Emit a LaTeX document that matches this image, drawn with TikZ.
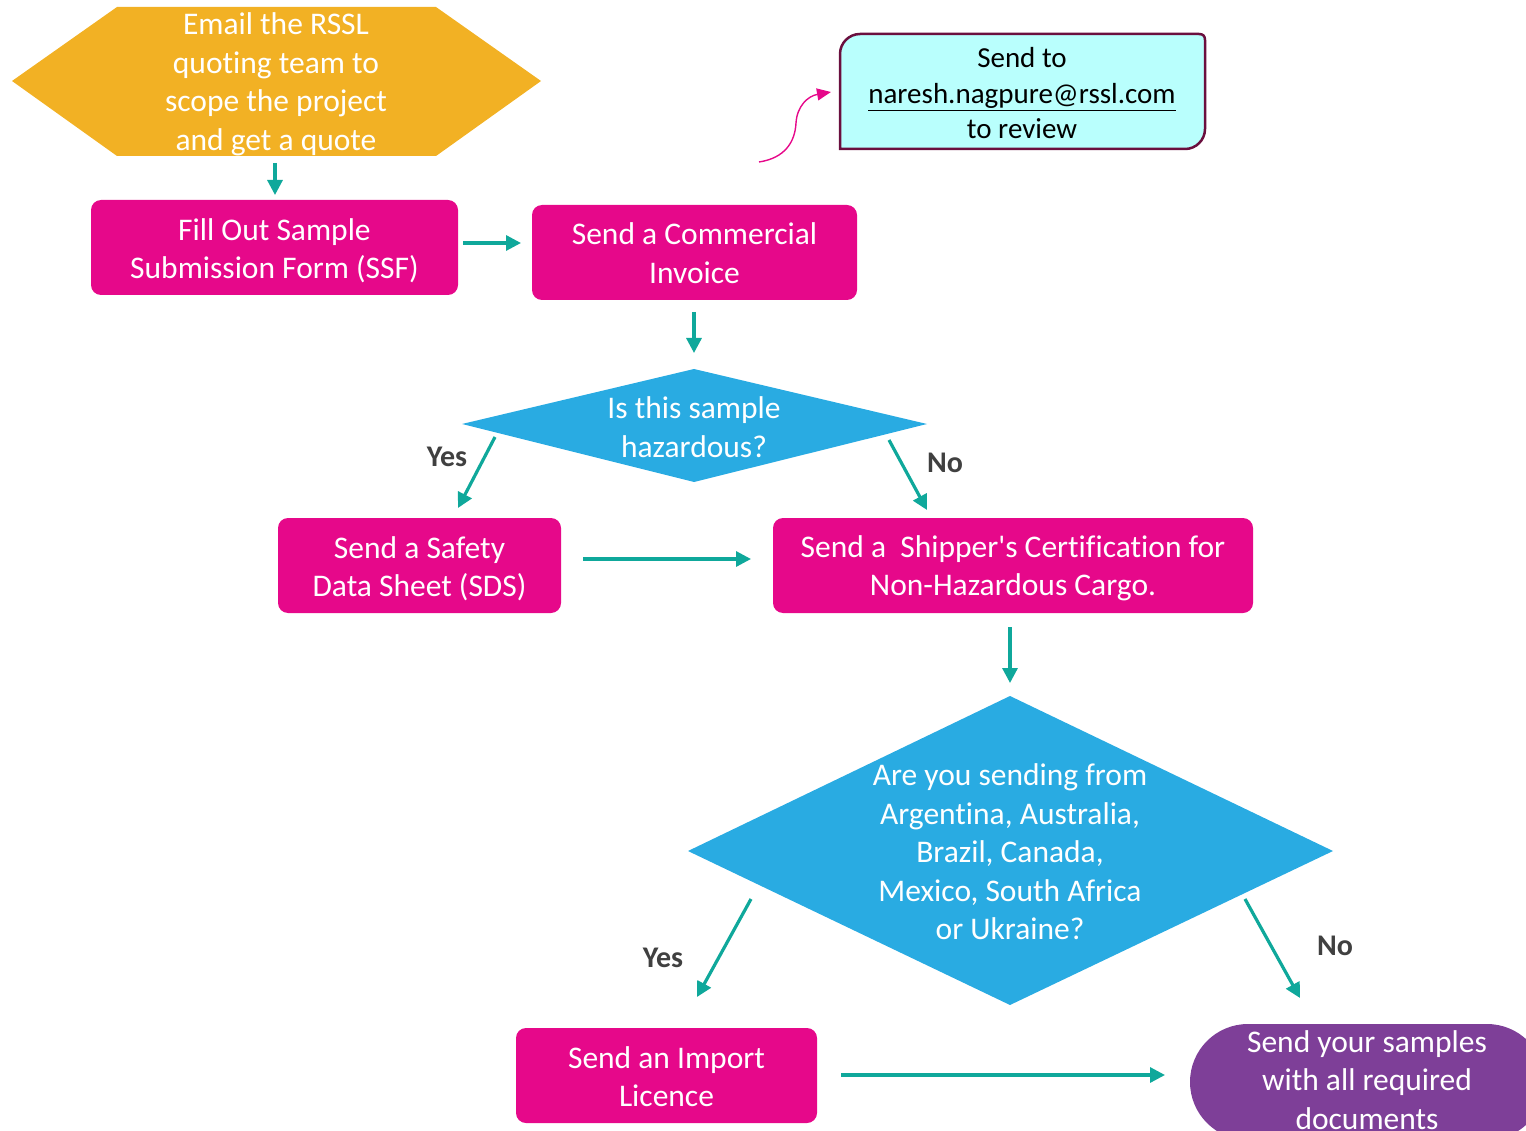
\documentclass[tikz,border=0pt]{standalone}
\usepackage{fontspec}
\setmainfont{Carlito}[Ligatures={NoCommon,TeXOff}]
\usetikzlibrary{arrows.meta}
\definecolor{hexorange}{HTML}{F2B124}
\definecolor{boxpink}{HTML}{E6088A}
\definecolor{diablue}{HTML}{29ABE2}
\definecolor{arrteal}{HTML}{0FA89B}
\definecolor{endpurple}{HTML}{7E3F98}
\definecolor{lblgray}{HTML}{404040}
\definecolor{callfill}{HTML}{B9FFFD}
\definecolor{callline}{HTML}{6A0F3E}
\begin{document}
\begin{tikzpicture}[x=1pt,y=-1pt,
  txt/.style={text=white, align=center, inner sep=0pt, font=\fontsize{31.5}{38.5}\selectfont},
  stepbox/.style={fill=boxpink, rounded corners=10pt, minimum height=95pt, inner sep=0pt},
  flow/.style={draw=arrteal, line width=3.2pt, -{Triangle[length=15pt,width=15pt]}},
  lbl/.style={text=lblgray, inner sep=0pt, font=\fontsize{30}{36}\selectfont\bfseries},
  calltxt/.style={text=black, align=center, inner sep=0pt, yshift=-1pt, font=\fontsize{29}{35.5}\selectfont},
]
\useasboundingbox (0,0) rectangle (1526,1131);

% hexagon
\fill[hexorange] (12,81) -- (117,7) -- (436,7) -- (541,81) -- (436,156) -- (117,156) -- cycle;
\node[txt] (email) at (276,84.5) {Email the RSSL\\quoting team to\\scope the project\\and get a quote};

% boxes
\node[stepbox, minimum width=367pt] (ssf) at (274.5,247.5) {};
\node[txt] (ssf-t) at (274.5,250.5) {Fill Out Sample\\Submission Form (SSF)};
\node[stepbox, minimum width=325pt] (invoice) at (694.5,252.5) {};
\node[txt] (invoice-t) at (694.5,253) {Send a Commercial\\Invoice};
\node[stepbox, minimum width=283pt] (sds) at (419.5,565.5) {};
\node[txt] (sds-t) at (419.5,568.5) {Send a Safety\\Data Sheet (SDS)};
\node[stepbox, minimum width=480pt] (shipper) at (1013,565.5) {};
\node[txt] (shipper-t) at (1013,568.5) {Send a\ \ Shipper's Certification for\\Non-Hazardous Cargo.};
\node[stepbox, minimum width=301pt] (import) at (666.5,1075.5) {};
\node[txt] (import-t) at (666.5,1076.5) {Send an Import\\Licence};

% diamonds
\fill[diablue] (462,424) -- (694,369) -- (927,424) -- (694,482) -- cycle;
\node[txt] (haz) at (694,427) {Is this sample\\hazardous?};
\fill[diablue] (688,851) -- (1010,696) -- (1333,851) -- (1010,1005) -- cycle;
\node[txt] (country) at (1010,852) {Are you sending from\\Argentina, Australia,\\Brazil, Canada,\\Mexico, South Africa\\or Ukraine?};

% final stadium
\fill[endpurple, rounded corners=58pt] (1190,1024) rectangle (1545,1140);
\node[txt] (final) at (1367,1080) {Send your samples\\with all required\\documents};

% callout
\filldraw[fill=callfill, draw=callline, line width=2.5pt]
  (840,149) -- (840,54) .. controls (840,43) and (849,34) .. (860,34)
  -- (1199,34) .. controls (1203,34) and (1205,36) .. (1205,40)
  -- (1205,129) .. controls (1205,140) and (1196,149) .. (1185,149) -- cycle;
\node[calltxt] (review) at (1022,92.5) {Send to\\\underline{naresh.nagpure@rssl.com}\\to review};

% coordinates for connectors
\coordinate (a1) at (275,163);  \coordinate (b1) at (275,195);
\coordinate (a2) at (463,243);  \coordinate (b2) at (521,243);
\coordinate (a3) at (694,312);  \coordinate (b3) at (694,353);
\coordinate (a4) at (495,437);  \coordinate (b4) at (458,508);
\coordinate (a5) at (889,440);  \coordinate (b5) at (927,510);
\coordinate (a6) at (583,559);  \coordinate (b6) at (751,559);
\coordinate (a7) at (1010,627); \coordinate (b7) at (1010,683);
\coordinate (a8) at (751,899);  \coordinate (b8) at (697,997);
\coordinate (a9) at (1245,899); \coordinate (b9) at (1300,998);
\coordinate (a10) at (841,1075); \coordinate (b10) at (1165,1075);
\coordinate (cs) at (759,162);  \coordinate (ce) at (831,92);

\draw[flow] (a1) -- (b1);
\draw[flow] (a2) -- (b2);
\draw[flow] (a3) -- (b3);
\draw[flow] (a4) -- (b4);
\draw[flow] (a5) -- (b5);
\draw[flow] (a6) -- (b6);
\draw[flow] (a7) -- (b7);
\draw[flow] (a8) -- (b8);
\draw[flow] (a9) -- (b9);
\draw[flow] (a10) -- (b10);

\draw[boxpink, line width=1.4pt, -{Triangle[length=14pt,width=12pt]}]
  (cs) .. controls (785,158) and (795,142) .. (796,123)
  .. controls (797,106) and (808,96) .. (ce);

% labels
\node[lbl] (yes1) at (447,457) {Yes};
\node[lbl] (no1) at (945,463) {No};
\node[lbl] (yes2) at (663,958) {Yes};
\node[lbl] (no2) at (1335,946) {No};
\end{tikzpicture}
\end{document}
